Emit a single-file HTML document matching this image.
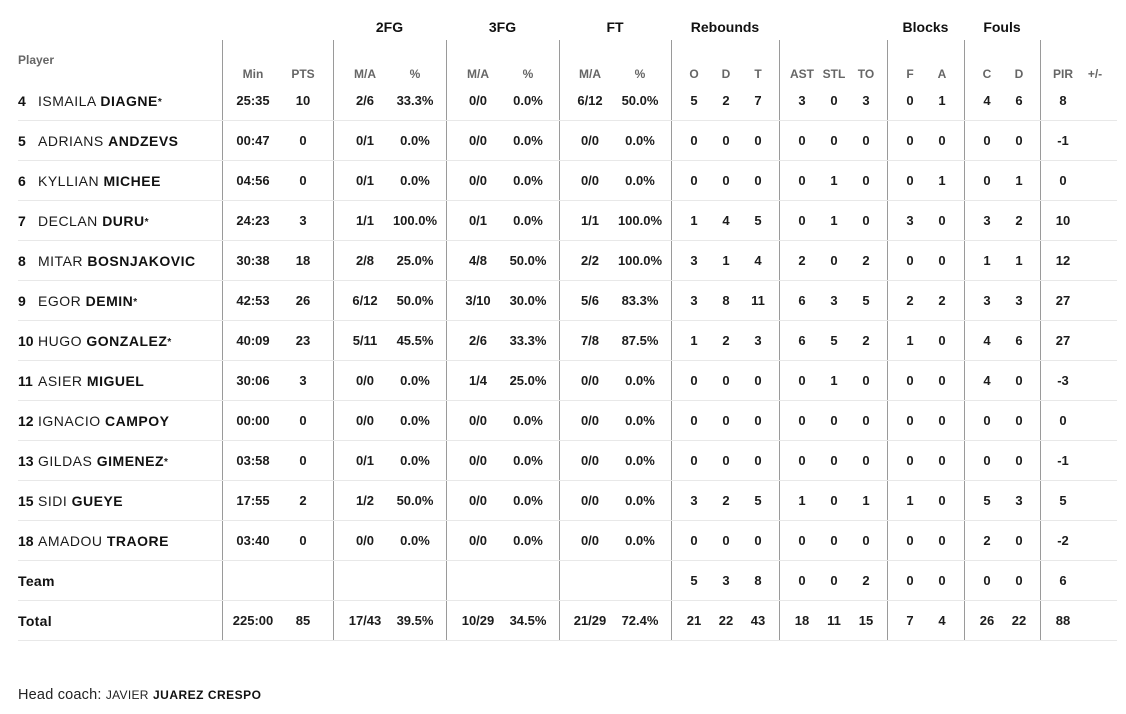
<!DOCTYPE html>
<html>
<head>
<meta charset="utf-8">
<style>
html,body{margin:0;padding:0;background:#fff;}
body{width:1126px;height:714px;position:relative;overflow:hidden;font-family:"Liberation Sans",Arial,sans-serif;color:#111;}
.vl{position:absolute;top:40px;height:600px;width:1px;background:#9a9a9a;}
.hl{position:absolute;left:18px;width:1099px;height:1px;background:#e8e8e8;}
.g{position:absolute;top:17px;height:20px;line-height:20px;font-size:14px;font-weight:bold;text-align:center;color:#111;}
.sh{position:absolute;top:64px;height:20px;line-height:20px;font-size:12px;font-weight:bold;color:#666;width:60px;text-align:center;}
.row{position:absolute;left:0;width:1126px;height:20px;}
.row span{position:absolute;top:0;height:20px;line-height:20px;width:60px;text-align:center;font-size:13px;font-weight:bold;color:#1c1c1c;}
.row .num{left:18px;width:auto;text-align:left;font-size:14px;color:#111;}
.row .nm{left:38px;width:auto;text-align:left;font-size:14px;font-weight:normal;color:#1a1a1a;white-space:nowrap;letter-spacing:0.5px;}
.row .nm b{font-weight:bold;color:#111;}
.row .nm i{font-style:normal;font-weight:bold;font-size:10px;position:relative;top:-1px;letter-spacing:0;}
.row .lbl{left:18px;width:auto;text-align:left;font-size:14px;color:#111;letter-spacing:0.3px;}
.c1{left:223px}.c2{left:273px}.c3{left:335px}.c4{left:385px}.c5{left:448px}.c6{left:498px}
.c7{left:560px}.c8{left:610px}.c9{left:664px}.c10{left:696px}.c11{left:728px}.c12{left:772px}
.c13{left:804px}.c14{left:836px}.c15{left:880px}.c16{left:912px}.c17{left:957px}.c18{left:989px}
.c19{left:1033px}.c20{left:1065px}
.coach{position:absolute;left:18px;top:685px;height:20px;line-height:20px;font-size:14.5px;color:#222;white-space:nowrap;letter-spacing:0.2px;}
.coach .s{font-size:12px;letter-spacing:0.3px;}
.coach b{font-size:12px;color:#111;letter-spacing:0.5px;}
</style>
</head>
<body>

<div class="vl" style="left:222px"></div>
<div class="vl" style="left:333px"></div>
<div class="vl" style="left:446px"></div>
<div class="vl" style="left:559px"></div>
<div class="vl" style="left:671px"></div>
<div class="vl" style="left:779px"></div>
<div class="vl" style="left:887px"></div>
<div class="vl" style="left:964px"></div>
<div class="vl" style="left:1040px"></div>

<div class="hl" style="top:120px"></div>
<div class="hl" style="top:160px"></div>
<div class="hl" style="top:200px"></div>
<div class="hl" style="top:240px"></div>
<div class="hl" style="top:280px"></div>
<div class="hl" style="top:320px"></div>
<div class="hl" style="top:360px"></div>
<div class="hl" style="top:400px"></div>
<div class="hl" style="top:440px"></div>
<div class="hl" style="top:480px"></div>
<div class="hl" style="top:520px"></div>
<div class="hl" style="top:560px"></div>
<div class="hl" style="top:600px"></div>
<div class="hl" style="top:640px"></div>

<div class="g" style="left:333px;width:113px">2FG</div>
<div class="g" style="left:446px;width:113px">3FG</div>
<div class="g" style="left:559px;width:112px">FT</div>
<div class="g" style="left:671px;width:108px">Rebounds</div>
<div class="g" style="left:887px;width:77px">Blocks</div>
<div class="g" style="left:964px;width:76px">Fouls</div>

<div style="position:absolute;left:18px;top:50px;height:20px;line-height:20px;font-size:12px;font-weight:bold;color:#666;">Player</div>

<div class="sh c1">Min</div><div class="sh c2">PTS</div>
<div class="sh c3">M/A</div><div class="sh c4">%</div>
<div class="sh c5">M/A</div><div class="sh c6">%</div>
<div class="sh c7">M/A</div><div class="sh c8">%</div>
<div class="sh c9">O</div><div class="sh c10">D</div><div class="sh c11">T</div>
<div class="sh c12">AST</div><div class="sh c13">STL</div><div class="sh c14">TO</div>
<div class="sh c15">F</div><div class="sh c16">A</div>
<div class="sh c17">C</div><div class="sh c18">D</div>
<div class="sh c19">PIR</div><div class="sh c20">+/-</div>

<div class="row" style="top:91px"><span class="num">4</span><span class="nm">ISMAILA <b>DIAGNE</b><i>*</i></span>
<span class="c1">25:35</span><span class="c2">10</span><span class="c3">2/6</span><span class="c4">33.3%</span><span class="c5">0/0</span><span class="c6">0.0%</span><span class="c7">6/12</span><span class="c8">50.0%</span><span class="c9">5</span><span class="c10">2</span><span class="c11">7</span><span class="c12">3</span><span class="c13">0</span><span class="c14">3</span><span class="c15">0</span><span class="c16">1</span><span class="c17">4</span><span class="c18">6</span><span class="c19">8</span></div>

<div class="row" style="top:131px"><span class="num">5</span><span class="nm">ADRIANS <b>ANDZEVS</b></span>
<span class="c1">00:47</span><span class="c2">0</span><span class="c3">0/1</span><span class="c4">0.0%</span><span class="c5">0/0</span><span class="c6">0.0%</span><span class="c7">0/0</span><span class="c8">0.0%</span><span class="c9">0</span><span class="c10">0</span><span class="c11">0</span><span class="c12">0</span><span class="c13">0</span><span class="c14">0</span><span class="c15">0</span><span class="c16">0</span><span class="c17">0</span><span class="c18">0</span><span class="c19">-1</span></div>

<div class="row" style="top:171px"><span class="num">6</span><span class="nm">KYLLIAN <b>MICHEE</b></span>
<span class="c1">04:56</span><span class="c2">0</span><span class="c3">0/1</span><span class="c4">0.0%</span><span class="c5">0/0</span><span class="c6">0.0%</span><span class="c7">0/0</span><span class="c8">0.0%</span><span class="c9">0</span><span class="c10">0</span><span class="c11">0</span><span class="c12">0</span><span class="c13">1</span><span class="c14">0</span><span class="c15">0</span><span class="c16">1</span><span class="c17">0</span><span class="c18">1</span><span class="c19">0</span></div>

<div class="row" style="top:211px"><span class="num">7</span><span class="nm">DECLAN <b>DURU</b><i>*</i></span>
<span class="c1">24:23</span><span class="c2">3</span><span class="c3">1/1</span><span class="c4">100.0%</span><span class="c5">0/1</span><span class="c6">0.0%</span><span class="c7">1/1</span><span class="c8">100.0%</span><span class="c9">1</span><span class="c10">4</span><span class="c11">5</span><span class="c12">0</span><span class="c13">1</span><span class="c14">0</span><span class="c15">3</span><span class="c16">0</span><span class="c17">3</span><span class="c18">2</span><span class="c19">10</span></div>

<div class="row" style="top:251px"><span class="num">8</span><span class="nm">MITAR <b>BOSNJAKOVIC</b></span>
<span class="c1">30:38</span><span class="c2">18</span><span class="c3">2/8</span><span class="c4">25.0%</span><span class="c5">4/8</span><span class="c6">50.0%</span><span class="c7">2/2</span><span class="c8">100.0%</span><span class="c9">3</span><span class="c10">1</span><span class="c11">4</span><span class="c12">2</span><span class="c13">0</span><span class="c14">2</span><span class="c15">0</span><span class="c16">0</span><span class="c17">1</span><span class="c18">1</span><span class="c19">12</span></div>

<div class="row" style="top:291px"><span class="num">9</span><span class="nm">EGOR <b>DEMIN</b><i>*</i></span>
<span class="c1">42:53</span><span class="c2">26</span><span class="c3">6/12</span><span class="c4">50.0%</span><span class="c5">3/10</span><span class="c6">30.0%</span><span class="c7">5/6</span><span class="c8">83.3%</span><span class="c9">3</span><span class="c10">8</span><span class="c11">11</span><span class="c12">6</span><span class="c13">3</span><span class="c14">5</span><span class="c15">2</span><span class="c16">2</span><span class="c17">3</span><span class="c18">3</span><span class="c19">27</span></div>

<div class="row" style="top:331px"><span class="num">10</span><span class="nm">HUGO <b>GONZALEZ</b><i>*</i></span>
<span class="c1">40:09</span><span class="c2">23</span><span class="c3">5/11</span><span class="c4">45.5%</span><span class="c5">2/6</span><span class="c6">33.3%</span><span class="c7">7/8</span><span class="c8">87.5%</span><span class="c9">1</span><span class="c10">2</span><span class="c11">3</span><span class="c12">6</span><span class="c13">5</span><span class="c14">2</span><span class="c15">1</span><span class="c16">0</span><span class="c17">4</span><span class="c18">6</span><span class="c19">27</span></div>

<div class="row" style="top:371px"><span class="num">11</span><span class="nm">ASIER <b>MIGUEL</b></span>
<span class="c1">30:06</span><span class="c2">3</span><span class="c3">0/0</span><span class="c4">0.0%</span><span class="c5">1/4</span><span class="c6">25.0%</span><span class="c7">0/0</span><span class="c8">0.0%</span><span class="c9">0</span><span class="c10">0</span><span class="c11">0</span><span class="c12">0</span><span class="c13">1</span><span class="c14">0</span><span class="c15">0</span><span class="c16">0</span><span class="c17">4</span><span class="c18">0</span><span class="c19">-3</span></div>

<div class="row" style="top:411px"><span class="num">12</span><span class="nm">IGNACIO <b>CAMPOY</b></span>
<span class="c1">00:00</span><span class="c2">0</span><span class="c3">0/0</span><span class="c4">0.0%</span><span class="c5">0/0</span><span class="c6">0.0%</span><span class="c7">0/0</span><span class="c8">0.0%</span><span class="c9">0</span><span class="c10">0</span><span class="c11">0</span><span class="c12">0</span><span class="c13">0</span><span class="c14">0</span><span class="c15">0</span><span class="c16">0</span><span class="c17">0</span><span class="c18">0</span><span class="c19">0</span></div>

<div class="row" style="top:451px"><span class="num">13</span><span class="nm">GILDAS <b>GIMENEZ</b><i>*</i></span>
<span class="c1">03:58</span><span class="c2">0</span><span class="c3">0/1</span><span class="c4">0.0%</span><span class="c5">0/0</span><span class="c6">0.0%</span><span class="c7">0/0</span><span class="c8">0.0%</span><span class="c9">0</span><span class="c10">0</span><span class="c11">0</span><span class="c12">0</span><span class="c13">0</span><span class="c14">0</span><span class="c15">0</span><span class="c16">0</span><span class="c17">0</span><span class="c18">0</span><span class="c19">-1</span></div>

<div class="row" style="top:491px"><span class="num">15</span><span class="nm">SIDI <b>GUEYE</b></span>
<span class="c1">17:55</span><span class="c2">2</span><span class="c3">1/2</span><span class="c4">50.0%</span><span class="c5">0/0</span><span class="c6">0.0%</span><span class="c7">0/0</span><span class="c8">0.0%</span><span class="c9">3</span><span class="c10">2</span><span class="c11">5</span><span class="c12">1</span><span class="c13">0</span><span class="c14">1</span><span class="c15">1</span><span class="c16">0</span><span class="c17">5</span><span class="c18">3</span><span class="c19">5</span></div>

<div class="row" style="top:531px"><span class="num">18</span><span class="nm">AMADOU <b>TRAORE</b></span>
<span class="c1">03:40</span><span class="c2">0</span><span class="c3">0/0</span><span class="c4">0.0%</span><span class="c5">0/0</span><span class="c6">0.0%</span><span class="c7">0/0</span><span class="c8">0.0%</span><span class="c9">0</span><span class="c10">0</span><span class="c11">0</span><span class="c12">0</span><span class="c13">0</span><span class="c14">0</span><span class="c15">0</span><span class="c16">0</span><span class="c17">2</span><span class="c18">0</span><span class="c19">-2</span></div>

<div class="row" style="top:571px"><span class="lbl">Team</span>
<span class="c9">5</span><span class="c10">3</span><span class="c11">8</span><span class="c12">0</span><span class="c13">0</span><span class="c14">2</span><span class="c15">0</span><span class="c16">0</span><span class="c17">0</span><span class="c18">0</span><span class="c19">6</span></div>

<div class="row" style="top:611px"><span class="lbl">Total</span>
<span class="c1">225:00</span><span class="c2">85</span><span class="c3">17/43</span><span class="c4">39.5%</span><span class="c5">10/29</span><span class="c6">34.5%</span><span class="c7">21/29</span><span class="c8">72.4%</span><span class="c9">21</span><span class="c10">22</span><span class="c11">43</span><span class="c12">18</span><span class="c13">11</span><span class="c14">15</span><span class="c15">7</span><span class="c16">4</span><span class="c17">26</span><span class="c18">22</span><span class="c19">88</span></div>

<div class="coach">Head coach: <span class="s">JAVIER</span> <b>JUAREZ CRESPO</b></div>

</body>
</html>
